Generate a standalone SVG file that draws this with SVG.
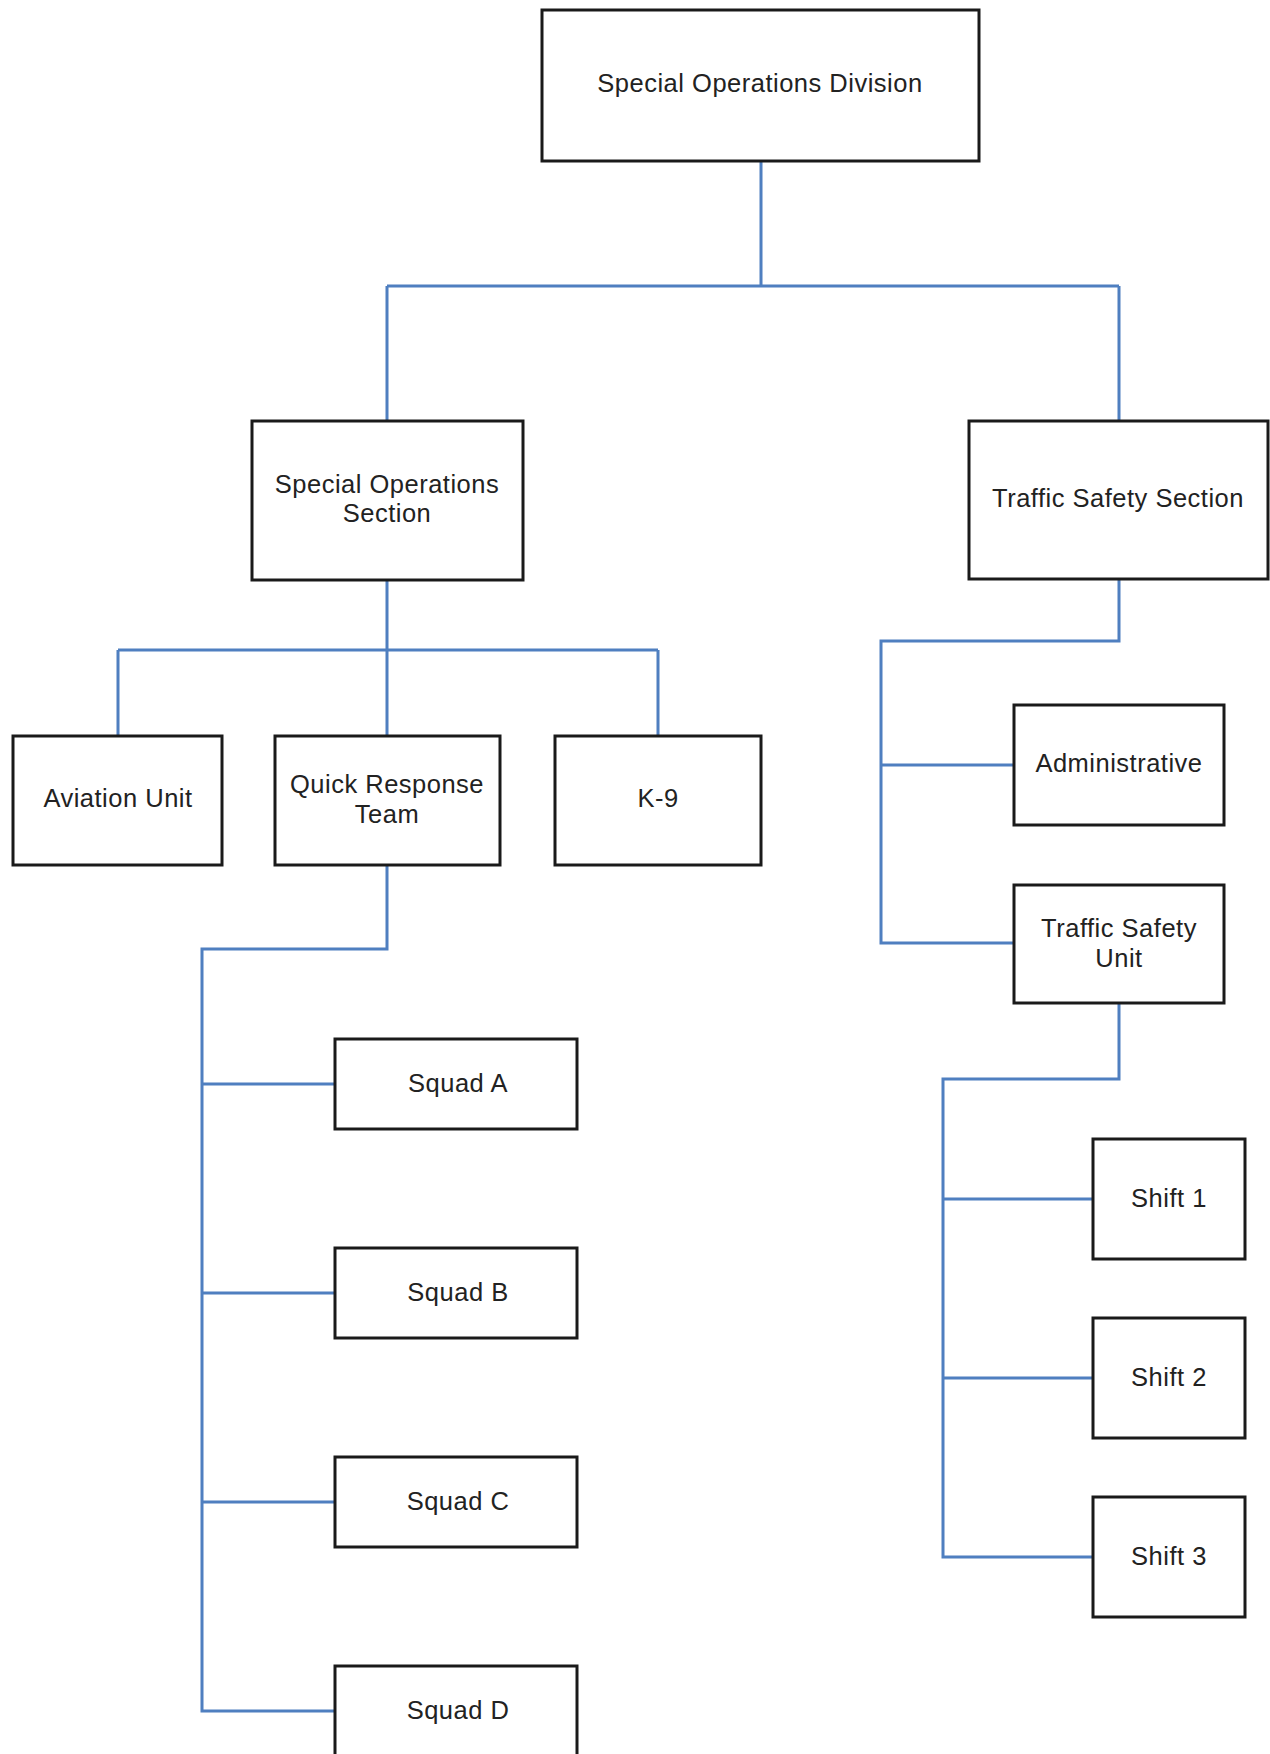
<svg xmlns="http://www.w3.org/2000/svg" width="1270" height="1754" viewBox="0 0 1270 1754">
<style>
.box{fill:#ffffff;stroke:#1a1a1a;stroke-width:3}
.lbl{font-family:"Liberation Sans",Arial,sans-serif;font-size:25.5px;letter-spacing:0.5px;fill:#222222;text-anchor:middle}
.conn{fill:none;stroke:#4f7fc0;stroke-width:3}
</style>
<rect width="1270" height="1754" fill="#ffffff"/>
<g id="connectors">
<path class="conn" d="M761 161 V286 M387 286 H1119 M387 286 V421 M1119 286 V421"/>
<path class="conn" d="M387 580 V650 M118 650 H658 M118 650 V736 M387 650 V736 M658 650 V736"/>
<path class="conn" d="M1119 579 V641 H881 V943 H1014 M881 765 H1014"/>
<path class="conn" d="M387 865 V949 H202 V1711 H335 M202 1084 H335 M202 1293 H335 M202 1502 H335"/>
<path class="conn" d="M1119 1003 V1079 H943 V1557 H1093 M943 1199 H1093 M943 1378 H1093"/>
</g>
<g id="n_division"><rect class="box" x="542" y="10" width="437" height="151"/><text class="lbl" x="760" y="92">Special Operations Division</text></g>
<g id="n_sos"><rect class="box" x="252" y="421" width="271" height="159"/><text class="lbl" x="387" y="493">Special Operations</text><text class="lbl" x="387" y="522">Section</text></g>
<g id="n_tss"><rect class="box" x="969" y="421" width="299" height="158"/><text class="lbl" x="1118" y="507">Traffic Safety Section</text></g>
<g id="n_aviation"><rect class="box" x="13" y="736" width="209" height="129"/><text class="lbl" x="118" y="807">Aviation Unit</text></g>
<g id="n_qrt"><rect class="box" x="275" y="736" width="225" height="129"/><text class="lbl" x="387" y="793">Quick Response</text><text class="lbl" x="387" y="823">Team</text></g>
<g id="n_k9"><rect class="box" x="555" y="736" width="206" height="129"/><text class="lbl" x="658" y="807">K-9</text></g>
<g id="n_admin"><rect class="box" x="1014" y="705" width="210" height="120"/><text class="lbl" x="1119" y="772">Administrative</text></g>
<g id="n_tsu"><rect class="box" x="1014" y="885" width="210" height="118"/><text class="lbl" x="1119" y="937">Traffic Safety</text><text class="lbl" x="1119" y="967">Unit</text></g>
<g id="n_squad_a"><rect class="box" x="335" y="1039" width="242" height="90"/><text class="lbl" x="458" y="1092">Squad A</text></g>
<g id="n_squad_b"><rect class="box" x="335" y="1248" width="242" height="90"/><text class="lbl" x="458" y="1301">Squad B</text></g>
<g id="n_squad_c"><rect class="box" x="335" y="1457" width="242" height="90"/><text class="lbl" x="458" y="1510">Squad C</text></g>
<g id="n_squad_d"><rect class="box" x="335" y="1666" width="242" height="90"/><text class="lbl" x="458" y="1719">Squad D</text></g>
<g id="n_shift1"><rect class="box" x="1093" y="1139" width="152" height="120"/><text class="lbl" x="1169" y="1207">Shift 1</text></g>
<g id="n_shift2"><rect class="box" x="1093" y="1318" width="152" height="120"/><text class="lbl" x="1169" y="1386">Shift 2</text></g>
<g id="n_shift3"><rect class="box" x="1093" y="1497" width="152" height="120"/><text class="lbl" x="1169" y="1565">Shift 3</text></g>
</svg>
